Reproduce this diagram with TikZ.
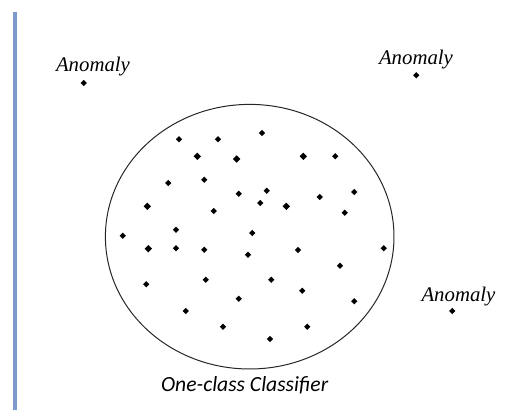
\documentclass[tikz,border=0pt]{standalone}
\usepackage{fontspec}
\setmainfont{Liberation Serif}
\newfontfamily\tagfont{Liberation Serif}
\newfontfamily\captionfont{Carlito}
\usepackage{xcolor}
\usepackage{tikz}
\usetikzlibrary{shapes.geometric}

\definecolor{barblue}{RGB}{124,154,204}

\begin{document}
\begin{tikzpicture}[
    x=0.5pt, y=-0.5pt,
    sample/.style={diamond, fill=black, inner sep=0pt, minimum size=3.3pt},
    bigsample/.style={diamond, fill=black, inner sep=0pt, minimum size=3.9pt},
    tag/.style={font=\tagfont\fontsize{10.4}{12}\selectfont\itshape, inner sep=0pt},
    boundary/.style={draw=black!85, line width=0.5pt}
]
\useasboundingbox (0,0) rectangle (505,410);
\fill[barblue] (12.7,11.7) rectangle (17.3,410);

% one-class boundary
\node[boundary, ellipse, minimum width=144.3pt, minimum height=132.3pt, inner sep=0pt] (OCC) at (249.7,236.7) {};
\node[font=\captionfont\fontsize{10.8}{12}\selectfont\itshape, inner sep=0pt] (cap) at (244.7,385.5) {One-class Classifier};

% normal samples
\foreach \px/\py [count=\i] in {179/139.3, 218/139.3, 262/133, 335.3/156.3, 168.3/183, 204.3/179.7,
    238.7/193.7, 266.7/190.7, 260.3/203, 319.7/197, 354.3/192, 213.7/211, 344.7/212.7,
    176/229.7, 252.3/233, 122.7/235.7, 176/248.3, 204.3/249.7, 248/254.7, 298/250,
    383.7/248.3, 340/265.7, 146.3/284.3, 205.7/279.7, 271.3/279.7, 302.3/290.7,
    238.7/298.7, 354.3/301.3, 185.7/311, 223/326.7, 307.3/326.7, 270/339}
    \node[sample] (s\i) at (\px,\py) {};
\foreach \px/\py [count=\i] in {197.3/156.3, 236.7/159, 303.3/156.3, 286.3/206.3, 147.3/206.3, 148.3/248.7}
    \node[bigsample] (b\i) at (\px,\py) {};

% anomalies
\node[sample] (A1) at (83.7,83) {};
\node[sample] (A2) at (416.3,75.3) {};
\node[sample] (A3) at (452.3,311) {};
\node[tag] (L1) at (93,67) {Anomaly};
\node[tag] (L2) at (416,60) {Anomaly};
\node[tag] (L3) at (458.5,297) {Anomaly};
\end{tikzpicture}
\end{document}
